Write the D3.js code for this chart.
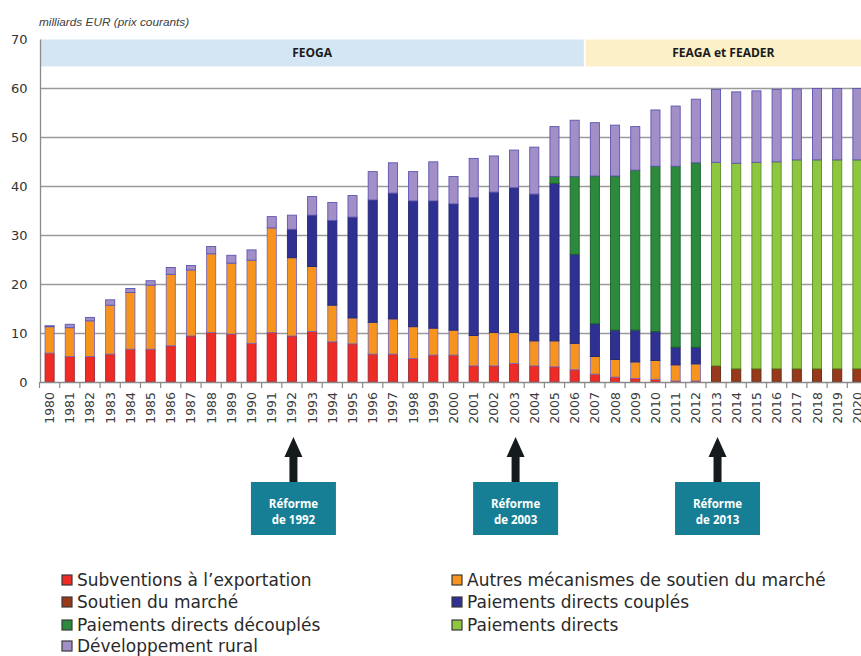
<!DOCTYPE html>
<html><head><meta charset="utf-8">
<script src="https://cdn.jsdelivr.net/npm/d3@7"></script>
<style>body{margin:0;background:#fff}svg{display:block}</style>
</head><body>
<svg id="c" width="861" height="656"></svg>
<script>
const years = d3.range(1980, 2021);
const yTicks = [0,10,20,30,40,50,60,70];
const exportSubs = [5.9,5.2,5.2,5.7,6.7,6.7,7.4,9.4,10.1,9.8,7.9,10.1,9.4,10.3,8.2,7.8,5.7,5.7,4.8,5.5,5.5,3.3,3.3,3.8,3.3,3.1,2.5,1.6,1.0,0.7,0.5,0.2,0.2,0,0,0,0,0,0,0,0];
const marketSupport = [0,0,0,0,0,0,0,0,0,0,0,0,0,0,0,0,0,0,0,0,0,0,0,0,0,0,0,0,0,0,0,0,0,3.3,2.7,2.7,2.7,2.7,2.7,2.7,2.7];
const otherMarket = [5.4,5.9,7.3,10.0,11.6,13.1,14.6,13.5,16.1,14.5,17.0,21.4,16.0,13.3,7.5,5.3,6.5,7.2,6.5,5.5,5.1,6.2,6.8,6.3,5.1,5.3,5.4,3.6,3.6,3.4,3.9,3.3,3.5,0,0,0,0,0,0,0,0];
const coupled = [0,0,0,0,0,0,0,0,0,0,0,0,5.8,10.5,17.3,20.6,25.0,25.7,25.7,26.0,25.8,28.2,28.7,29.6,30.0,32.2,18.2,6.7,6.0,6.5,5.9,3.6,3.4,0,0,0,0,0,0,0,0];
const decoupled = [0,0,0,0,0,0,0,0,0,0,0,0,0,0,0,0,0,0,0,0,0,0,0,0,0,1.4,15.9,30.2,31.5,32.7,33.8,37.0,37.7,0,0,0,0,0,0,0,0];
const directPay = [0,0,0,0,0,0,0,0,0,0,0,0,0,0,0,0,0,0,0,0,0,0,0,0,0,0,0,0,0,0,0,0,0,41.6,42.0,42.2,42.3,42.7,42.7,42.7,42.7];
const rural = [0.2,0.7,0.7,1.1,0.8,0.9,1.4,0.9,1.5,1.6,2.1,2.3,2.9,3.8,3.7,4.4,5.8,6.2,6.0,8.0,5.6,8.0,7.4,7.7,9.6,10.2,11.5,10.9,10.4,8.9,11.5,12.3,13.0,14.9,14.6,14.6,14.8,14.5,14.6,14.6,14.6];

const seriesKeys = ["exp","mkt","oth","cpl","dcp","dir","rur"];
const seriesNames = ["Subventions à l’exportation","Soutien du marché","Autres mécanismes de soutien du marché","Paiements directs couplés","Paiements directs découplés","Paiements directs","Développement rural"];
const seriesColors = ["#ee2b24","#97391a","#f7941e","#2e3192","#2b8a3c","#8dc63f","#a38fc7"];
const seriesStrokes = ["#9c2a3a","#5a2a14","#7d6ab8","#23266e","#1f5e2a","#5f8a2a","#5b55b0"];
const seriesValues = [exportSubs, marketSupport, otherMarket, coupled, decoupled, directPay, rural];

const periods = ["FEOGA","FEAGA et FEADER"];
const periodStart = [1980, 2007];
const periodEnd = [2006, 2020];
const reforms = [1992, 2003, 2013];

const legendLeft = [0,1,4,6];
const legendRight = [2,3,5];

const svg = d3.select("#c");
const x = d3.scaleBand().domain(years).range([39.5, 867.5]).paddingInner(0.55).paddingOuter(0.275);
const y = d3.scaleLinear().domain([0,70]).range([382, 39.5]);
const step = x.step();
const edge = yr => x(yr) - step*x.paddingInner()/2;

// header bands
const bandColors = ["#d4e6f4","#fbf0c8"];
periods.forEach((p,i)=>{
  const x0 = i===0 ? 40.5 : edge(periodStart[i]) + 1;
  const x1 = edge(periodEnd[i]) + step - 1;
  svg.append("rect").attr("x",x0).attr("y",y(70)).attr("width",x1-x0).attr("height",y(64.5)-y(70)).attr("fill",bandColors[i]);
  svg.append("text").attr("x",(x0+Math.min(x1,861))/2).attr("y",(y(70)+y(64.5))/2+4.5)
    .attr("text-anchor","middle").attr("font-family","Open Sans").attr("font-weight","bold").attr("font-size",12).attr("fill","#1a1a1a").text(p);
});

// gridlines
svg.append("g").selectAll("line").data(yTicks.filter(t=>t>0&&t<70)).join("line")
  .attr("x1",40).attr("x2",861).attr("y1",d=>Math.round(y(d))+0.5).attr("y2",d=>Math.round(y(d))+0.5)
  .attr("stroke","#9a9a9a").attr("stroke-width",1.3);

// y axis
svg.append("line").attr("x1",40.5).attr("x2",40.5).attr("y1",y(70)).attr("y2",y(0)).attr("stroke","#8a8a8a").attr("stroke-width",1.3);
svg.append("g").selectAll("text").data(yTicks).join("text")
  .attr("x",27.5).attr("y",d=>y(d)+4.5).attr("text-anchor","end")
  .attr("font-family","DejaVu Sans").attr("font-size",13).attr("fill","#333").text(d=>d);

// stacked bars
const rows = years.map((yr,i)=>{const o={year:yr}; seriesKeys.forEach((k,j)=>o[k]=seriesValues[j][i]); return o;});
const stack = d3.stack().keys(seriesKeys)(rows);
stack.forEach((layer,j)=>{
  svg.append("g").selectAll("rect").data(layer.filter(d=>d[1]-d[0]>0)).join("rect")
    .attr("x",d=>x(d.data.year)).attr("width",x.bandwidth())
    .attr("y",d=>y(d[1])).attr("height",d=>y(d[0])-y(d[1]))
    .attr("fill",seriesColors[j]).attr("stroke",seriesStrokes[j]).attr("stroke-width",0.9);
});

// x axis
svg.append("line").attr("x1",40).attr("x2",861).attr("y1",382.5).attr("y2",382.5).attr("stroke","#8a8a8a").attr("stroke-width",1.3);
svg.append("g").selectAll("line").data(years.concat([2021])).join("line")
  .attr("x1",d=>d===2021?edge(2020)+step:edge(d)).attr("x2",d=>d===2021?edge(2020)+step:edge(d))
  .attr("y1",382).attr("y2",388).attr("stroke","#8a8a8a").attr("stroke-width",1.2);
svg.append("g").selectAll("text").data(years).join("text")
  .attr("transform",d=>`translate(${x(d)+x.bandwidth()/2+4.5},392) rotate(-90)`)
  .attr("text-anchor","end").attr("font-family","DejaVu Sans").attr("font-size",12.5).attr("fill","#3a3a3a").text(d=>d);

// title
svg.append("text").attr("x",39).attr("y",26).attr("font-family","Liberation Sans").attr("font-style","italic")
  .attr("font-size",11.8).attr("fill","#404040").text("milliards EUR (prix courants)");

// reform arrows and boxes
reforms.forEach(r=>{
  const cx = x(r)+x.bandwidth()/2+1.5;
  svg.append("path").attr("d",`M${cx-4},482 L${cx-4},457 L${cx-9},457 L${cx},437 L${cx+9},457 L${cx+4},457 L${cx+4},482 Z`).attr("fill","#151a1c");
  svg.append("rect").attr("x",cx-42.5).attr("y",482).attr("width",85).attr("height",53).attr("fill","#167f96");
  svg.append("text").attr("x",cx).attr("y",508).attr("text-anchor","middle").attr("font-family","Open Sans").attr("font-weight","bold").attr("font-size",11.5).attr("fill","#fff").text("Réforme");
  svg.append("text").attr("x",cx).attr("y",524).attr("text-anchor","middle").attr("font-family","Open Sans").attr("font-weight","bold").attr("font-size",11.5).attr("fill","#fff").text("de "+r);
});

// legend
const legRowY = [580,602,625,646];
const legTexts = [];
[[legendLeft,62],[legendRight,452]].forEach(([list,lx])=>{
  list.forEach((si,k)=>{
    const cy = legRowY[k];
    svg.append("rect").attr("x",lx).attr("y",cy-5).attr("width",10).attr("height",10)
      .attr("fill",seriesColors[si]).attr("stroke","#3a3a3a").attr("stroke-width",1.2);
    const t = svg.append("text").attr("x",lx+15).attr("y",cy+6).attr("font-family","DejaVu Sans").attr("font-size",16)
      .attr("fill","#2a2a2a").text(seriesNames[si]);
    legTexts.push(t);
  });
});
// fit legend font so the first entry spans the reference width
const w0 = legTexts[0].node().getComputedTextLength();
const fs = Math.min(17, 16*236/w0);
legTexts.forEach(t=>t.attr("font-size",fs));
</script>
</body></html>
